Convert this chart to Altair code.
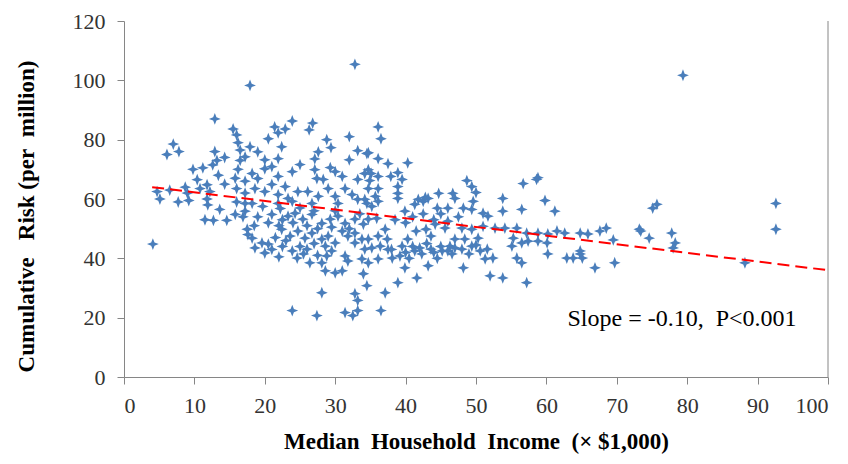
import altair as alt
import pandas as pd

# Scatter points (x = median household income in $1,000, y = cumulative risk per million)
income = [
    17.9, 12.9, 15.5, 16, 16.2, 7, 6.1, 7.8, 12.9, 14.3, 13.2, 16.5, 16.5, 9.8, 11.2, 12.6, 13.4, 10.4, 14.3, 11.8,
    16.2, 15.8, 10.8, 8.7, 12.2, 16, 17.2, 4.7, 17.2, 5.1,
    7.7, 9.2, 11.8, 11.9, 13.6, 16, 17.2, 11.5, 12.7, 14.6, 15.8, 16.9, 17.5, 17.6, 4.1,
    32.8, 23.9, 21.4, 22.9, 26.8, 26.3, 21.9, 20.5, 28.8, 32, 29.4, 33.2, 34.5, 22.4, 17.9, 19, 27.6, 27.1, 32, 17.2,
    20, 21.9, 25, 20, 21, 23.9, 29.3, 30, 31, 33.2, 34.2, 27.1, 27.4, 28.3, 19, 21.9, 18.2, 21, 22.9, 24.7,
    26.1, 29, 31.4, 32.4, 34.7, 20, 18.6, 21.9, 23.3, 27.6, 30,
    17.2, 18.2, 19.7, 21, 22.2, 23.3, 24.3, 25.4, 26.7, 28.1, 29.3, 30.4, 31.4, 32.8, 34, 34.5, 33.2, 30.4, 26.7, 23.9, 21.9,
    18.2, 18.6, 19.6, 20, 20.5, 22.4, 23.6, 24.7, 25.7, 26.7, 23.9, 24.6, 26, 26.4, 28.1, 28.6, 29, 30, 28.8, 28.1,
    28.6, 30, 31, 31.4, 31.8, 31, 31.8, 32.8, 33.8, 32.8, 34.2, 33.8, 34, 34.5, 32.8, 33.2, 28.1, 23.9, 27.4, 31.4, 32.5, 33.2,
    36.1, 36.5, 34.7, 36.1, 37.5, 40.3, 34.7, 35.1, 36.1, 37.9, 38.9, 39.5, 34.9, 36.1, 38.9, 38.9, 35.7, 38.9, 42.8, 44.7,
    46.7, 47, 48.7, 49.4, 50, 41.8,
    34.2, 35.2, 36.1, 39.9, 41.3, 42.5, 43.2, 44.5, 46, 48.2, 49.4, 51, 49.6,
    34.7, 35.9, 37.1, 36.1, 34.7, 37.4, 35.2, 36.4, 40.3, 41.5, 42.9, 43.6, 39.5, 39.2, 38.1, 36.1, 34.7, 41.3, 42.3, 43.6,
    45.2, 46.3, 47, 46.6, 48, 49.4, 50.6, 51.3, 48.4, 50.3, 51, 48, 49.4, 45.6, 44.2,
    39.9, 43.2, 48.2, 41.6, 38.9, 37.1, 36.5, 52,
    58.8, 58.6, 56.7, 53.8, 59.8, 53.8, 56.5, 61.2, 51.7, 52.7, 54.1, 55.8, 57.2, 58.8, 60.2, 61.5, 62.6, 64.8, 65.9, 67.6,
    68.5, 55.3, 55.1, 56.5, 57.4, 58.8, 60.1, 51.6, 52.4, 55.8, 56.5, 60.2, 62.9, 63.8, 64.8, 65.1, 64.8, 66.9, 53.8, 57.2,
    79.4, 92.6, 92.6, 75.7, 75.1, 73.2, 73.4, 74.6, 77.8, 78.3, 78, 88.2, 69.7, 69.5,
    38, 40, 41, 42, 43, 44, 45, 46, 47, 49, 50, 44.5, 40.5, 37.5,
    20.5, 22, 24, 26, 27.5, 29.5, 32, 33.5, 30, 27, 25, 22.5, 19, 18.5,
    38.5, 40, 41, 42.5, 44, 46, 47.5, 45,
    21.5, 22.5, 23, 25, 27, 27.5, 29.5, 25.5, 21, 22,
    6.5, 9,
]
risk = [
    98.3, 87, 83.6, 81.6, 79, 78.5, 75, 76, 76, 74, 73, 76.5, 73, 70, 70.5, 71.5, 68, 66.5, 65, 64.8,
    70, 67, 63.5, 64, 62.5, 63.5, 66, 62.5, 62, 60,
    59, 59.5, 60, 58, 56.5, 59, 58.5, 53, 52.8, 52.8, 54.8, 54, 49.8, 48, 44.8,
    105.4, 86.3, 84.3, 83.6, 85.6, 83.3, 82.3, 80.3, 80, 81, 77.3, 76.3, 75.3, 77.6, 77.6, 75.9, 75.9, 73.5, 73.2, 74.2,
    73.2, 73.6, 71.6, 70.2, 70.9, 69.2, 70.6, 69.2, 67.6, 66.6, 68.6, 69.9, 66.9, 66.6, 66.9, 67.6, 68.6, 64.9, 64.2, 62.5,
    62.5, 63.5, 63.5, 61.5, 63.5, 62.5, 63.5, 61.5, 60.2, 60.9, 60.9,
    55.9, 58.5, 57.5, 54.8, 56.8, 54.2, 55.2, 53.2, 54.8, 51.8, 53.2, 54.2, 51.8, 53.2, 51.5, 58.5, 59.9, 58.5, 58.5, 59.2, 58.5,
    46.8, 43.5, 45.2, 41.8, 44.8, 49.8, 47.5, 49.2, 46.8, 48.5, 42.5, 40.1, 43.1, 38.5, 46.5, 44.1, 47.5, 45.2, 40.8, 38.5,
    35.8, 35.1, 35.8, 40.8, 39.1, 49.2, 47.5, 48.5, 46.5, 45.2, 43.1, 39.8, 34.8, 30.8, 28.1, 25.8, 28.4, 22.4, 20.7, 21.7, 20.7, 22.4,
    84.3, 80.3, 75.6, 73.6, 71.9, 72.2, 69.9, 68.6, 67.6, 67.6, 68.9, 66.6, 66.2, 63.5, 64.2, 61.9, 60.9, 60.2, 60.5, 61.9,
    61.9, 60.2, 66.2, 64.2, 62.2, 59.9,
    59.9, 57.5, 59.2, 55.9, 58.2, 59.2, 60.2, 56.9, 56.9, 56.9, 56.5, 55.2, 59.2,
    53.2, 53.5, 49.8, 47.5, 46.5, 46.5, 43.5, 44.1, 46.5, 49.2, 49.8, 47.5, 44.1, 40.8, 40.1, 39.8, 38.5, 42.5, 41.5, 43.1,
    42.5, 44.1, 46.5, 41.5, 43.1, 44.1, 42.5, 39.8, 46.5, 46.8, 50.8, 50.2, 49.8, 50.2, 51.5,
    36.8, 37.5, 36.8, 33.4, 31.8, 28.4, 22.4, 34.1,
    67.2, 66.6, 65.2, 60.2, 59.5, 55.9, 56.5, 55.9, 54.2, 50.2, 50.2, 50.2, 48.5, 48.5, 48.2, 49.2, 48.5, 48.5, 48.2, 49.2,
    50.2, 46.8, 44.1, 45.2, 45.8, 45.8, 45.2, 43.1, 40.1, 40.1, 38.5, 41.5, 40.1, 40.1, 41.5, 40.1, 42.5, 36.8, 33.4, 31.8,
    101.7, 58.5, 49.8, 58.2, 56.9, 49.8, 49.2, 46.8, 48.5, 45.2, 43.5, 38.5, 38.5, 46.2,
    43, 42, 44, 43.5, 45, 42, 44, 42.5, 43.5, 41.5, 44.5, 40, 40, 43,
    52, 51, 52, 51, 50, 50.5, 50, 55, 56, 56, 57, 53, 54, 51,
    53, 52, 54, 55, 53, 52.5, 54, 55,
    47, 44, 46, 44, 45, 41, 42.5, 41.5, 43, 40.5,
    63, 62,
]

# Fitted trend line endpoints
trend_x = [4, 100]
trend_y = [64, 36]

x_ticks = list(range(0, 101, 5))
y_ticks = list(range(0, 121, 10))

NB = "\u00a0"
x_title = f"Median{NB} Household{NB} Income{NB} (× $1,000)"
y_title = f"Cumulative{NB} {NB}Risk (per{NB} million)"
note_label = f"Slope = -0.10,{NB} P<0.001"

pts = pd.DataFrame({"income": income, "risk": risk})
trend = pd.DataFrame({"income": trend_x, "risk": trend_y})
note = pd.DataFrame({"income": [63], "risk": [17.2], "label": [note_label]})
border = pd.DataFrame({"income": [100], "r0": [0], "r1": [120]})

FONT = "Liberation Serif"
STAR = "M0,-1L0.28,-0.28L1,0L0.28,0.28L0,1L-0.28,0.28L-1,0L-0.28,-0.28Z"

x_enc = alt.X(
    "income:Q",
    scale=alt.Scale(domain=[0, 100], nice=False),
    axis=alt.Axis(
        values=x_ticks,
        labelExpr="datum.value % 10 == 0 ? datum.label : ''",
        title=x_title,
        titleY=64,
        titleBaseline="middle",
        labelPadding=11,
    ),
)
y_enc = alt.Y(
    "risk:Q",
    scale=alt.Scale(domain=[0, 120], nice=False),
    axis=alt.Axis(
        values=y_ticks,
        labelExpr="datum.value % 20 == 0 ? datum.label : ''",
        title=y_title,
        titleX=-98,
        titleY=195,
        titleAngle=-90,
        titleAlign="center",
        titleBaseline="middle",
        labelPadding=12,
    ),
)

points = alt.Chart(pts).mark_point(
    shape=STAR, filled=True, color="#4A7EBB", size=140, opacity=1
).encode(x=x_enc, y=y_enc)

line = alt.Chart(trend).mark_line(
    color="#FF0000", strokeWidth=2, strokeDash=[12, 6]
).encode(x="income:Q", y="risk:Q")

right = alt.Chart(border).mark_rule(color="#868686", strokeWidth=1).encode(
    x="income:Q", y="r0:Q", y2="r1:Q"
)

text = alt.Chart(note).mark_text(
    font=FONT, fontSize=24, align="left", baseline="alphabetic", color="#000000"
).encode(x="income:Q", y="risk:Q", text="label:N")

chart = (
    alt.layer(points, line, right, text)
    .properties(
        width=704,
        height=356,
        autosize=alt.AutoSizeParams(type="none"),
        padding={"left": 116, "top": 13, "right": 12, "bottom": 86},
    )
    .configure_view(stroke=None)
    .configure_axis(
        grid=False,
        domainColor="#868686",
        tickColor="#868686",
        tickSize=7,
        labelFont=FONT,
        labelFontSize=22,
        labelColor="#333333",
        titleFont=FONT,
        titleFontSize=23,
        titleFontWeight="bold",
        titleColor="#000000",
    )
)

chart.save("out.html", embed_options={"renderer": "svg", "actions": False})
